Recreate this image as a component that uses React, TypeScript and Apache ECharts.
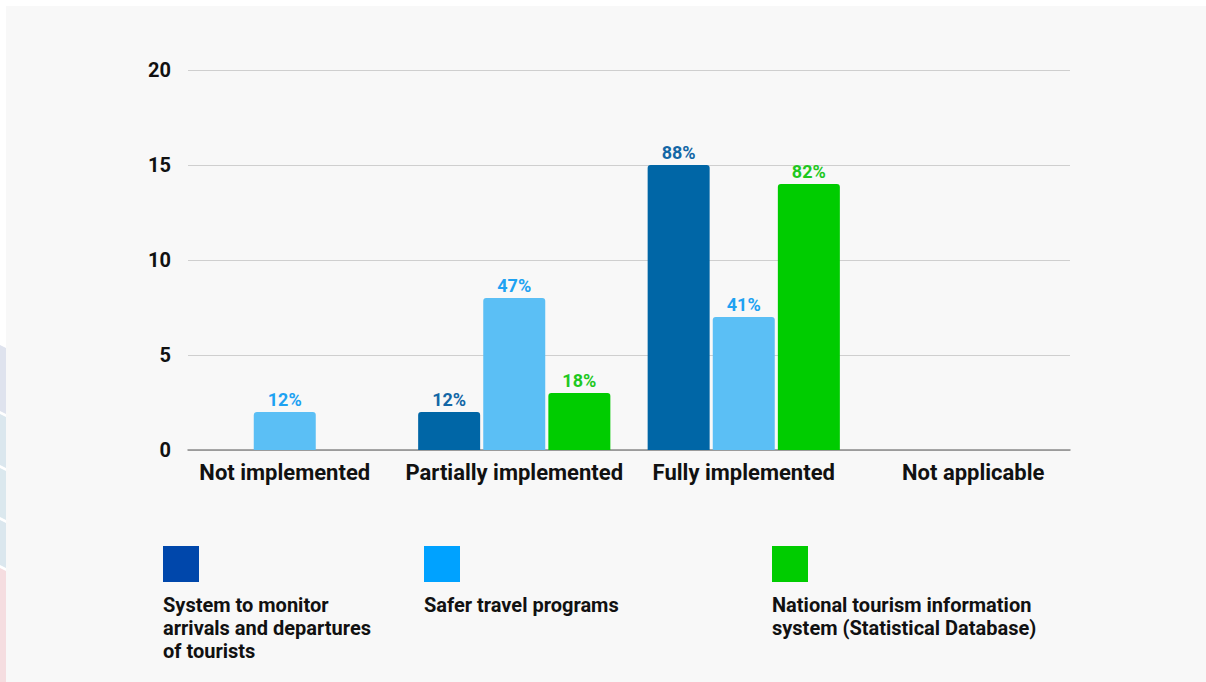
import React, { useEffect, useRef } from "react";
import * as echarts from "echarts";

const categories = ["Not implemented", "Partially implemented", "Fully implemented", "Not applicable"];
const seriesNames = [
  "System to monitor arrivals and departures of tourists",
  "Safer travel programs",
  "National tourism information system (Statistical Database)",
];
const monitorValues = [0, 2, 15, 0];
const saferValues = [2, 8, 7, 0];
const nationalValues = [0, 3, 14, 0];
const monitorLabels = ["", "12%", "88%", ""];
const saferLabels = ["12%", "47%", "41%", ""];
const nationalLabels = ["", "18%", "82%", ""];
const yTicks = [0, 5, 10, 15, 20];

const FONT = "Roboto, 'Noto Sans', sans-serif";

export default function App() {
  const ref = useRef<HTMLDivElement>(null);
  useEffect(() => {
    if (!ref.current) return;
    const chart = echarts.init(ref.current, undefined, { renderer: "svg" });
    const barColors = ["#0066a6", "#5bbff5", "#00cc00"];
    const labelColors = ["#1367a6", "#1ea2f2", "#1fc81f"];
    const legendColors = ["#0047ab", "#00a2ff", "#00cc00"];
    const values = [monitorValues, saferValues, nationalValues];
    const labels = [monitorLabels, saferLabels, nationalLabels];
    const legendText = [
      "System to monitor\narrivals and departures\nof tourists",
      "Safer travel programs",
      "National tourism information\nsystem (Statistical Database)",
    ];
    const legendX = [163, 424, 772];

    const series = values.map((vals, si) => ({
      name: seriesNames[si],
      type: "bar",
      xAxisIndex: 0,
      yAxisIndex: 0,
      barWidth: 62,
      barGap: "5%",
      data: vals,
      itemStyle: { color: barColors[si], borderRadius: [3, 3, 0, 0] },
      label: {
        show: true,
        position: "top",
        distance: 4,
        fontFamily: FONT,
        fontWeight: "bold",
        fontSize: 18,
        color: labelColors[si],
        formatter: (p: any) => labels[si][p.dataIndex],
      },
    }));

    const graphics: any[] = [
      { type: "rect", shape: { x: 0, y: 0, width: 1206, height: 682 }, style: { fill: "#ffffff" }, z: -10, silent: true },
      { type: "rect", shape: { x: 6, y: 6, width: 1200, height: 676 }, style: { fill: "#f8f8f8" }, z: -9, silent: true },
      { type: "polygon", shape: { points: [[0, 345], [6, 348], [6, 414], [0, 411]] }, style: { fill: "#dfe3ee" }, z: -8, silent: true },
      { type: "polygon", shape: { points: [[0, 414], [6, 417], [6, 468], [0, 465]] }, style: { fill: "#dbe7ee" }, z: -8, silent: true },
      { type: "polygon", shape: { points: [[0, 468], [6, 471], [6, 520], [0, 517]] }, style: { fill: "#dbe8ee" }, z: -8, silent: true },
      { type: "polygon", shape: { points: [[0, 520], [6, 523], [6, 568], [0, 565]] }, style: { fill: "#dbe7ee" }, z: -8, silent: true },
      { type: "polygon", shape: { points: [[0, 568], [6, 571], [6, 682], [0, 682]] }, style: { fill: "#f5dde0" }, z: -8, silent: true },
    ];
    legendX.forEach((x, i) => {
      graphics.push({
        type: "rect",
        shape: { x, y: 546, width: 36, height: 36 },
        style: { fill: legendColors[i] },
        silent: true,
      });
      graphics.push({
        type: "text",
        x,
        y: 593,
        style: {
          text: legendText[i],
          fill: "#111111",
          font: `bold 20px ${FONT}`,
          lineHeight: 23,
          textVerticalAlign: "top",
        },
        silent: true,
      });
    });

    chart.setOption({
      animation: false,
      backgroundColor: "transparent",
      grid: [
        { left: 170, width: 918, top: 70, height: 380 },
        { left: 188, width: 882, top: 70, height: 380 },
      ],
      xAxis: [
        {
          type: "category",
          gridIndex: 0,
          data: categories,
          axisLine: { show: false },
          axisTick: { show: false },
          axisLabel: {
            interval: 0,
            fontFamily: FONT,
            fontWeight: "bold",
            fontSize: 22,
            color: "#111111",
            margin: 11,
          },
        },
        {
          type: "category",
          gridIndex: 1,
          data: categories,
          axisLine: { show: true, lineStyle: { color: "#8a8a8a", width: 1.5 } },
          axisTick: { show: false },
          axisLabel: { show: false },
        },
      ],
      yAxis: [
        {
          type: "value",
          gridIndex: 0,
          min: yTicks[0],
          max: yTicks[yTicks.length - 1],
          interval: 5,
          axisLabel: { show: false },
          splitLine: { show: false },
          axisLine: { show: false },
          axisTick: { show: false },
        },
        {
          type: "value",
          gridIndex: 1,
          min: yTicks[0],
          max: yTicks[yTicks.length - 1],
          interval: 5,
          axisLine: { show: false },
          axisTick: { show: false },
          splitLine: { show: true, lineStyle: { color: "#cfcfcf", width: 1 } },
          axisLabel: {
            fontFamily: FONT,
            fontWeight: "bold",
            fontSize: 20,
            color: "#111111",
            margin: 17,
          },
        },
      ],
      graphic: graphics,
      series,
    });
    return () => chart.dispose();
  }, []);
  return (
    <div
      ref={ref}
      style={{ position: "absolute", left: 0, top: 0, width: 1206, height: 682 }}
    />
  );
}
